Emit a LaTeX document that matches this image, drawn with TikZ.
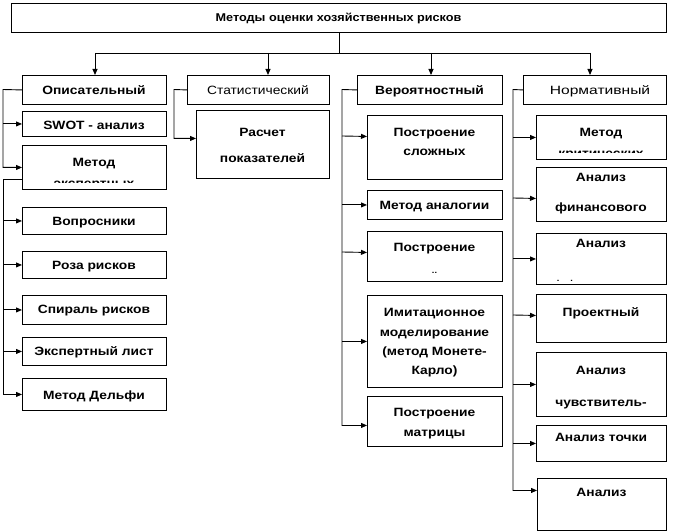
\documentclass[tikz,border=0pt]{standalone}
\usepackage{fontspec}
\setmainfont{Liberation Sans}
\newfontfamily\bodyf[FakeStretch=1.15]{Liberation Sans}
\newfontfamily\widef[FakeStretch=1.3]{Liberation Sans}
\newfontfamily\titf[FakeStretch=1.12]{Liberation Sans}
\usetikzlibrary{arrows.meta}
\tikzset{
  box/.style={draw, line width=0.9pt, inner sep=0pt, anchor=north west},
  txt/.style={inner sep=0pt, text height=8.6pt, text depth=0pt, anchor=center,
    font=\bodyf\bfseries\fontsize{12}{14}\selectfont},
  txtr/.style={txt, font=\bodyf\mdseries\fontsize{12}{14}\selectfont},
  txtw/.style={txt, font=\widef\mdseries\fontsize{12}{14}\selectfont},
  ttl/.style={txt, font=\titf\bfseries\fontsize{11.3}{13}\selectfont},
  dots/.style={inner sep=0pt, anchor=base, font=\bodyf\bfseries\fontsize{8}{9}\selectfont},
  ln/.style={line width=0.9pt},
  arr/.style={ln, -{Triangle[length=6pt,width=5pt]}},
}
\begin{document}
\begin{tikzpicture}[x=1pt,y=-1pt]
\useasboundingbox (0,0) rectangle (673,532);

% top and level 1
\node[box,minimum width=655pt,minimum height=29pt] (top) at (11,3) {};
\node[ttl] (top-t) at (338.5,17) {Методы оценки хозяйственных рисков};
\node[box,minimum width=144pt,minimum height=29pt] (op) at (22,75) {};
\node[txt] (op-t) at (94,90) {Описательный};
\node[box,minimum width=142pt,minimum height=29pt] (stat) at (187,75) {};
\node[txtr] (stat-t) at (258,90) {Статистический};
\node[box,minimum width=145pt,minimum height=29pt] (ver) at (357,75) {};
\node[txt] (ver-t) at (429.5,90) {Вероятностный};
\node[box,minimum width=143pt,minimum height=29pt] (norm) at (523,75) {};
\node[txtw] (norm-t) at (600,90) {Нормативный};

\coordinate (bus) at (339,53);
\coordinate (b1) at (95,53);
\coordinate (b2) at (268,53);
\coordinate (b3) at (431,53);
\coordinate (b4) at (590,53);
\draw[ln] (bus |- top.south) -- (bus);
\draw[ln] (b1) -- (b4);
\draw[arr] (b1) -- (b1 |- op.north);
\draw[arr] (b2) -- (b2 |- stat.north);
\draw[arr] (b3) -- (b3 |- ver.north);
\draw[arr] (b4) -- (b4 |- norm.north);

% column 1
\node[box,minimum width=144pt,minimum height=25pt] (swot) at (22,111) {};
\node[txt] (swot-t) at (94,125) {SWOT - анализ};
\node[box,minimum width=144pt,minimum height=44pt] (me) at (22,145) {};
\node[txt] (me-t) at (94,162) {Метод};
\begin{scope}
  \clip (me.north west) rectangle ([yshift=7pt]me.south east);
  \node[txt] (me-t2) at (94,183) {экспертных};
\end{scope}
\node[box,minimum width=144pt,minimum height=27pt] (vop) at (22,207) {};
\node[txt] (vop-t) at (94,221) {Вопросники};
\node[box,minimum width=144pt,minimum height=27pt] (roza) at (22,251) {};
\node[txt] (roza-t) at (94,265) {Роза рисков};
\node[box,minimum width=144pt,minimum height=29pt] (spir) at (22,295) {};
\node[txt] (spir-t) at (94,309) {Спираль рисков};
\node[box,minimum width=144pt,minimum height=28pt] (eksp) at (22,337) {};
\node[txt] (eksp-t) at (94,351) {Экспертный лист};
\node[box,minimum width=144pt,minimum height=32pt] (delf) at (22,378) {};
\node[txt] (delf-t) at (94,395) {Метод Дельфи};

\coordinate (e1) at (3,89.5);
\coordinate (e1b) at (3,179);
\draw[arr] (op.west) -- (e1) |- (me.west);
\draw[arr] (e1 |- swot.west) -- (swot.west);
\draw[arr] (me.west |- e1b) -- (e1b) |- (delf.west);
\draw[arr] (e1b |- vop.west) -- (vop.west);
\draw[arr] (e1b |- roza.west) -- (roza.west);
\draw[arr] (e1b |- spir.west) -- (spir.west);
\draw[arr] (e1b |- eksp.west) -- (eksp.west);

% column 2
\node[box,minimum width=133pt,minimum height=68pt] (rasch) at (196,110) {};
\node[txt] (rasch-t) at (262.5,132) {Расчет};
\node[txt] (rasch-t2) at (262.5,158) {показателей};
\coordinate (e2) at (174,89.5);
\draw[arr] (stat.west) -- (e2) |- ([yshift=6pt]rasch.west);

% column 3
\node[box,minimum width=135pt,minimum height=64pt] (sloz) at (367,115) {};
\node[txt] (sloz-t) at (434.5,132) {Построение};
\node[txt] (sloz-t2) at (434.5,151) {сложных};
\node[box,minimum width=135pt,minimum height=29pt] (anal) at (367,190) {};
\node[txt] (anal-t) at (434.5,205) {Метод аналогии};
\node[box,minimum width=135pt,minimum height=50pt] (postr) at (367,231) {};
\node[txt] (postr-t) at (434.5,247) {Построение};
\node[dots] (postr-t2) at (434.5,274) {..};
\node[box,minimum width=135pt,minimum height=92pt] (imit) at (367,295) {};
\node[txt] (imit-t) at (434.5,312) {Имитационное};
\node[txt] (imit-t2) at (434.5,332) {моделирование};
\node[txt] (imit-t3) at (434.5,351) {(метод Монете-};
\node[txt] (imit-t4) at (434.5,370) {Карло)};
\node[box,minimum width=135pt,minimum height=50pt] (matr) at (367,396) {};
\node[txt] (matr-t) at (434.5,412) {Построение};
\node[txt] (matr-t2) at (434.5,432) {матрицы};

\coordinate (e3) at (342,89.5);
\draw[arr] (ver.west) -- (e3) |- ([yshift=-4pt]matr.west);
\draw[arr] (e3 |- 0,136) -- ([yshift=11pt]sloz.west);
\draw[arr] (e3 |- anal.west) -- (anal.west);
\draw[arr] (e3 |- 0,252) -- ([yshift=4pt]postr.west);
\draw[arr] (e3 |- imit.west) -- (imit.west);

% column 4
\node[box,minimum width=130pt,minimum height=44pt] (krit) at (536,115) {};
\node[txt] (krit-t) at (601,132) {Метод};
\begin{scope}
  \clip (krit.north west) rectangle ([yshift=7pt]krit.south east);
  \node[txt] (krit-t2) at (601,153) {критических};
\end{scope}
\node[box,minimum width=130pt,minimum height=54pt] (fin) at (536,167) {};
\node[txt] (fin-t) at (601,177) {Анализ};
\node[txt] (fin-t2) at (601,207) {финансового};
\node[box,minimum width=130pt,minimum height=51pt] (an3) at (536,233) {};
\node[txt] (an3-t) at (601,243) {Анализ};
\node[dots] (an3-t2) at (565,282) {.\hspace{11pt}.};
\node[box,minimum width=130pt,minimum height=48pt] (proekt) at (536,294) {};
\node[txt] (proekt-t) at (601,312) {Проектный};
\node[box,minimum width=130pt,minimum height=64pt] (chuv) at (536,352) {};
\node[txt] (chuv-t) at (601,370) {Анализ};
\node[txt] (chuv-t2) at (601,402) {чувствитель-};
\node[box,minimum width=130pt,minimum height=36pt] (tochk) at (536,425) {};
\node[txt] (tochk-t) at (601,437) {Анализ точки};
\node[box,minimum width=129pt,minimum height=52pt] (anlast) at (537,478) {};
\node[txt] (anlast-t) at (601.5,492) {Анализ};

\coordinate (e4) at (513,89.5);
\draw[arr] (norm.west) -- (e4) |- ([yshift=14pt]anlast.west);
\draw[arr] (e4 |- krit.west) -- (krit.west);
\draw[arr] (e4 |- 0,198) -- ([yshift=-4pt]fin.west);
\draw[arr] (e4 |- an3.west) -- (an3.west);
\draw[arr] (e4 |- 0,315) -- ([yshift=3pt]proekt.west);
\draw[arr] (e4 |- chuv.west) -- (chuv.west);
\draw[arr] (e4 |- tochk.west) -- (tochk.west);
\end{tikzpicture}
\end{document}
